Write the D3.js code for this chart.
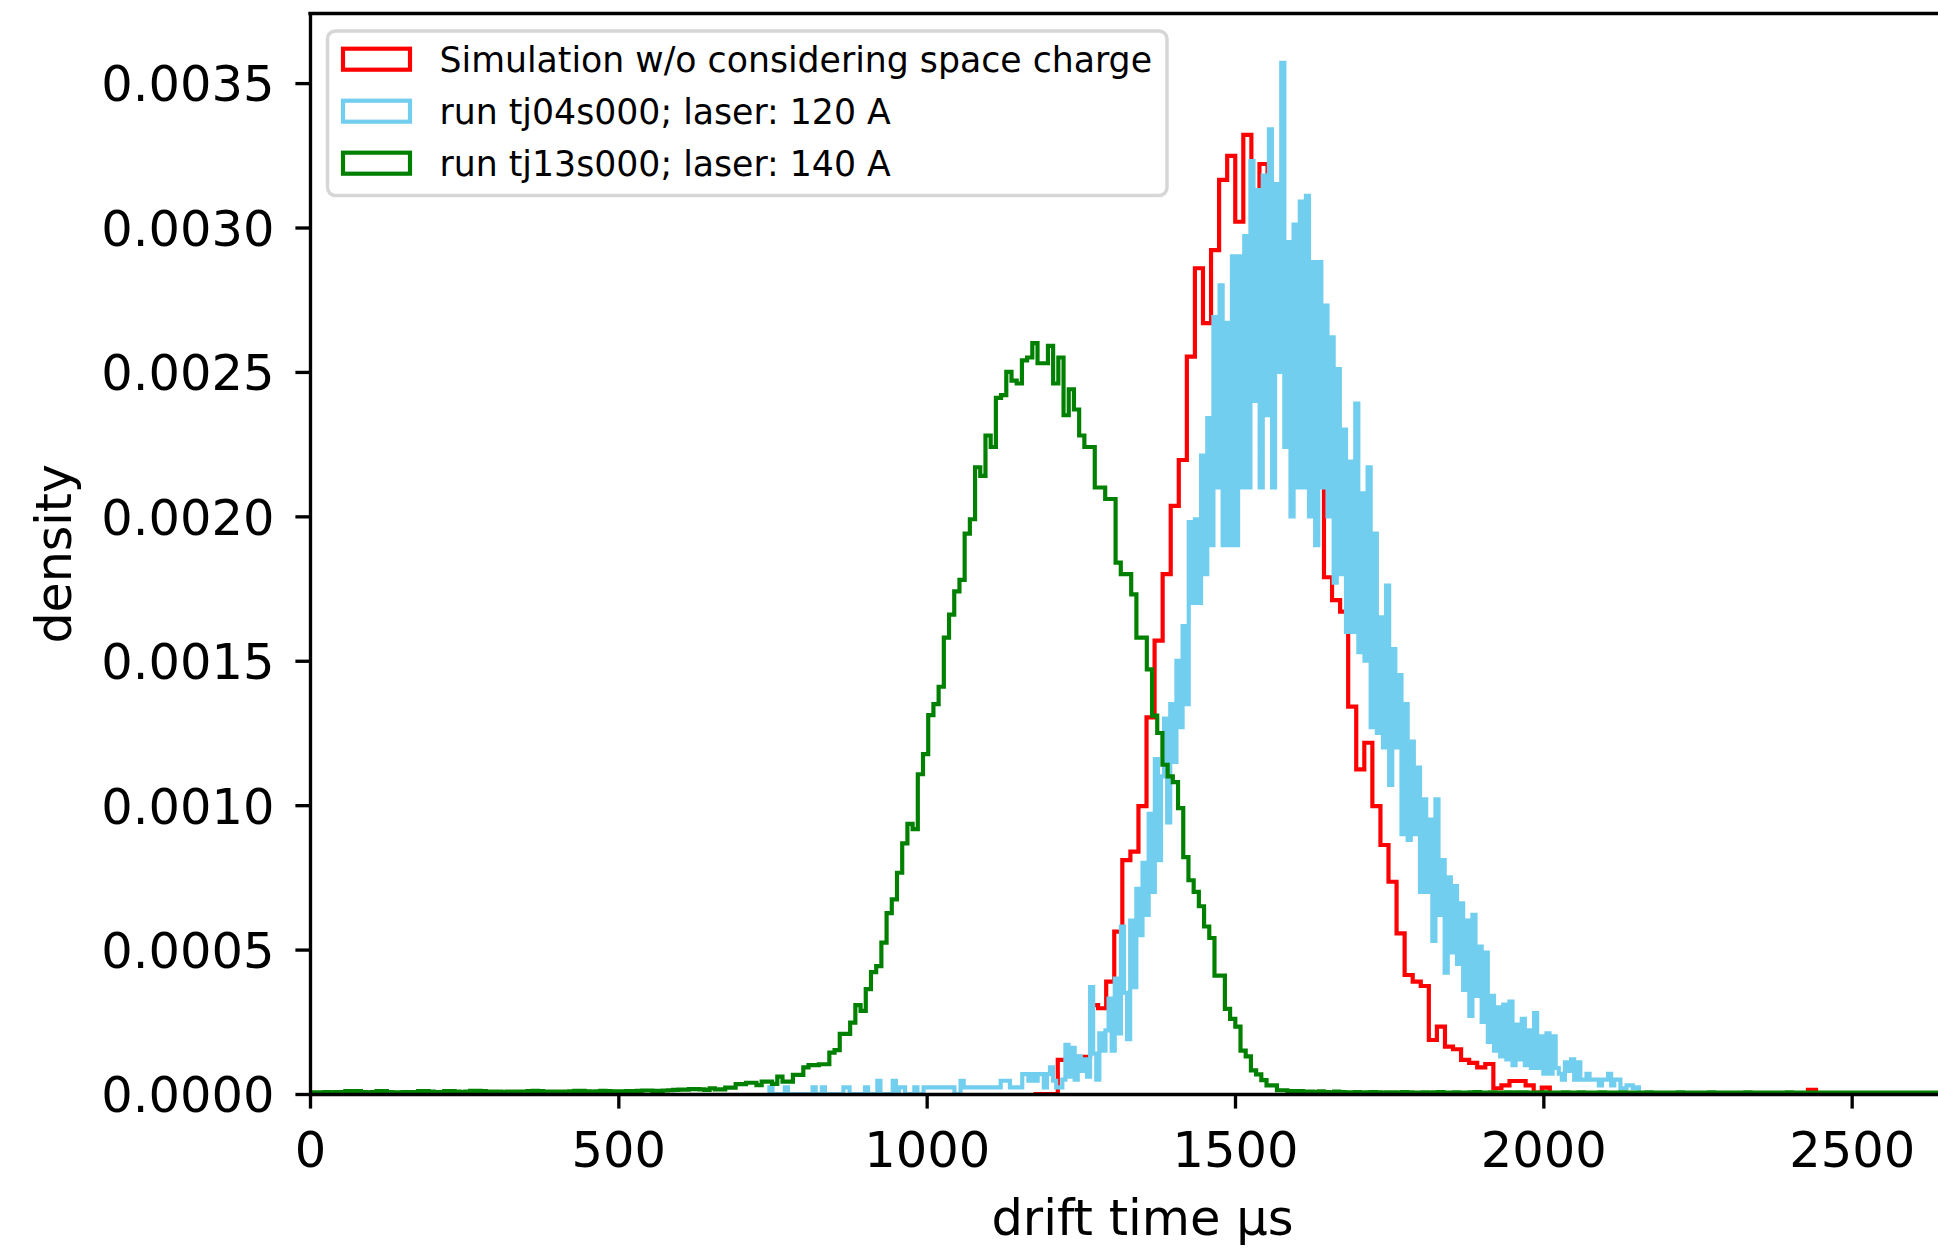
<!DOCTYPE html>
<html>
<head>
<meta charset="utf-8">
<script src="https://cdn.jsdelivr.net/npm/d3@7"></script>
<style>
  html, body { margin: 0; padding: 0; background: #fff; }
  svg { display: block; font-family: 'DejaVu Sans', sans-serif; }
</style>
</head>
<body>
<div id="chart"></div>
<script>
// labels and ticks
const seriesLabels = [
  'Simulation w/o considering space charge',
  'run tj04s000; laser: 120 A',
  'run tj13s000; laser: 140 A'
];
const seriesColors = ['#ff0000', '#72ceee', '#008000'];
const xTicks = [0, 500, 1000, 1500, 2000, 2500];
const yTicks = [0, 0.0005, 0.001, 0.0015, 0.002, 0.0025, 0.003, 0.0035];
const xLimit = [0, 2700];
const yLimit = [0, 0.003741];
const xTitle = 'drift time µs';
const yTitle = 'density';

// simulation (red), step histogram
const simBinStart = 1173.4;
const simBinWidth = 13.08;
const simDensity = [
  0, 0, 0, 0.000118, 0.000118, 0.000129, 0.000129, 0.000308, 0.000297, 0.000389,
  0.000562, 0.00081, 0.000839, 0.000997, 0.001304, 0.00157, 0.0018, 0.002036, 0.002195, 0.002553,
  0.002859, 0.002669, 0.002922, 0.003165, 0.003248, 0.00302, 0.003321, 0.00311, 0.00322, 0.0030,
  0.0029, 0.0028, 0.0027, 0.0025, 0.0023, 0.00214, 0.001789, 0.00171, 0.00167, 0.001341,
  0.001124, 0.001216, 0.000997, 0.000862, 0.000735, 0.000556, 0.000412, 0.000389, 0.000374, 0.000187,
  0.000233, 0.000164, 0.000155, 0.000118, 0.000108, 0.000092, 0.000104, 0.00002, 0.00003, 0.000045,
  0.000045, 0.00003, 0.000005, 0.000022, 0, 0, 0, 0, 0, 0,
  0, 0, 0, 0, 0, 0, 0, 0, 0, 0,
  0, 0, 0, 0, 0, 0, 0, 0, 0, 0,
  0, 0, 0, 0, 0, 0, 0.000014, 0
];

// run tj04s000 (light blue), narrow bins
const run04BinStart = 745;
const run04BinWidth = 5;
const run04Density = [
  0.000023, 0, 0, 0, 0, 0.000023, 0, 0, 0, 0,
  0, 0, 0, 0, 0.000023, 0, 0, 0.000023, 0, 0,
  0, 0, 0, 0, 0.000023, 0.000023, 0, 0, 0, 0,
  0, 0.000023, 0, 0, 0, 0.000046, 0, 0, 0, 0,
  0.000046, 0, 0.000023, 0.000023, 0, 0, 0, 0.000023, 0, 0,
  0.000023, 0.000023, 0.000023, 0.000023, 0.000023, 0.000023, 0.000023, 0.000023, 0.000023, 0.000023,
  0, 0, 0.000046, 0.000023, 0.000023, 0.000023, 0.000023, 0.000023, 0.000023, 0.000023,
  0.000023, 0.000023, 0.000023, 0.000023, 0.000023, 0.000046, 0.000046, 0.000046, 0.000023, 0.000023,
  0.000023, 0.000023, 0.000069, 0.000069, 0.000046, 0.000069, 0.000046, 0.000069, 0.000069, 0.000023,
  0.000069, 0.000092, 0.000046, 0.000023, 0.000023, 0.00005, 0.00017, 0.00006, 0.00016, 0.00005,
  0.00013, 0.00008, 0.00012, 0.00006, 0.00037, 0.00014, 0.00005, 0.00021, 0.00015, 0.00022,
  0.00033, 0.00015, 0.0004, 0.00021, 0.00058, 0.00035, 0.00019, 0.0006, 0.00037, 0.00071,
  0.00055, 0.0008, 0.00062, 0.00097, 0.0007, 0.00116, 0.00081, 0.0011, 0.0013, 0.00094,
  0.00135, 0.00115, 0.0015, 0.00127, 0.00162, 0.00135, 0.00198, 0.0017, 0.00199, 0.0017,
  0.00221, 0.0018, 0.00234, 0.0019, 0.00269, 0.0021, 0.0028, 0.0019, 0.00267, 0.0019,
  0.0029, 0.0019, 0.0029, 0.0021, 0.00297, 0.0021, 0.00323, 0.0024, 0.00313, 0.0021,
  0.00318, 0.00235, 0.00334, 0.0021, 0.00315, 0.0025, 0.00357, 0.00224, 0.00295, 0.002,
  0.00301, 0.0021, 0.00309, 0.0021, 0.00311, 0.002, 0.00288, 0.0019, 0.00288, 0.0021,
  0.00273, 0.002, 0.00262, 0.00177, 0.00251, 0.0018, 0.0023, 0.0016, 0.00219, 0.0016,
  0.00239, 0.00153, 0.00208, 0.0015, 0.00217, 0.00127, 0.00194, 0.00125, 0.00165, 0.0012,
  0.00176, 0.00107, 0.00154, 0.0012, 0.00145, 0.0009, 0.00135, 0.00088, 0.00122, 0.0009,
  0.00113, 0.0007, 0.00102, 0.0007, 0.00095, 0.00053, 0.00102, 0.00062, 0.00081, 0.00042,
  0.00075, 0.00049, 0.00072, 0.00045, 0.00066, 0.00036, 0.0006, 0.00027, 0.00062, 0.00034,
  0.00051, 0.00025, 0.00049, 0.00018, 0.00034, 0.00015, 0.0003, 0.00013, 0.00031, 0.00012,
  0.00032, 0.0001, 0.00024, 0.00012, 0.00026, 0.0001, 0.00022, 0.00009, 0.00028, 0.00009,
  0.0002, 0.00007, 0.00021, 0.00007, 0.0002, 0.00009, 0.00007, 0.00005, 0.00011, 0.00008,
  0.00012, 0.00005, 0.00011, 0.00005, 0.00005, 0.00007, 0.00005, 0.00005, 0.00005, 0.00003,
  0.00005, 0.00005, 0.00007, 0.00003, 0.00005, 0.00005, 0.00002, 0.00002, 0.00003, 0.00003,
  0.00002, 0.000023, 0
];

// run tj13s000 (green)
const run13BinStart = 6.6;
const run13BinWidth = 8.44;
const run13Density = [
  // low tail
  0.000006, 0.000006, 0.000007, 0.000006, 0.000007, 0.000007, 0.00001, 0.00001, 0.00001, 0.000007,
  0.000006, 0.000007, 0.00001, 0.00001, 0.000007, 0.000006, 0.000006, 0.000007, 0.000007, 0.000007,
  0.00001, 0.00001, 0.000008, 0.000007, 0.000007, 0.00001, 0.00001, 0.000008, 0.000007, 0.000008,
  0.000011, 0.000011, 0.00001, 0.000008, 0.000008, 0.000008, 0.000007, 0.000008, 0.000008, 0.000008,
  0.000008, 0.00001, 0.000011, 0.00001, 0.000008, 0.000008, 0.000008, 0.000008, 0.000008, 0.000009,
  0.000011, 0.000011, 0.000009, 0.000008, 0.000009, 0.000011, 0.00001, 0.000009, 0.000009, 0.000009,
  0.00001, 0.00001, 0.000011, 0.000012, 0.000012, 0.000011, 0.000011, 0.000012, 0.000013, 0.000014,
  0.000015, 0.000015, 0.000017, 0.000017, 0.000016,
  // main peak
  0.000014, 0.00002, 0.000016, 0.000016, 0.000022, 0.000022, 0.000034, 0.000034, 0.000039, 0.000039,
  0.000031, 0.000043, 0.000043, 0.000035, 0.00006, 0.000043, 0.000043, 0.000066, 0.000066, 0.000092,
  0.0001, 0.0001, 0.000103, 0.000103, 0.000143, 0.000152, 0.000208, 0.000208, 0.000247, 0.000308,
  0.000288, 0.000363, 0.000422, 0.000443, 0.000524, 0.000626, 0.000674, 0.000766, 0.000868, 0.000935,
  0.000917, 0.001107, 0.001177, 0.001312, 0.00135, 0.00141, 0.00158, 0.00166, 0.00174, 0.00178,
  0.00194, 0.00199, 0.00217, 0.00214, 0.00228, 0.00224, 0.00241, 0.00242, 0.0025, 0.00247,
  0.00246, 0.00254, 0.00255, 0.0026, 0.00253, 0.00253, 0.00259, 0.00246, 0.00255, 0.00235,
  0.00244, 0.00237, 0.00228, 0.00224, 0.00224, 0.0021, 0.0021, 0.00206, 0.00206, 0.00184,
  0.0018, 0.0018, 0.00173, 0.00158, 0.00158, 0.00147, 0.00131, 0.00125, 0.00114, 0.0011,
  0.00108, 0.00099, 0.00082, 0.00074, 0.0007, 0.00065, 0.00058, 0.00054, 0.00041, 0.00041,
  0.000295, 0.00026, 0.000233, 0.00015, 0.00013, 0.000082, 0.000068, 0.000048, 0.00003, 0.00003,
  0.000013, 0.000013, 0.00001, 0.00001,
  // high tail
  0.00001, 0.000008, 0.000008, 0.000007, 0.000009, 0.000007, 0.000006, 0.000008, 0.000007, 0.000006,
  0.000006, 0.000007, 0.000005, 0.000006, 0.000007, 0.000006, 0.000005, 0.000006, 0.000006, 0.000005,
  0.000007, 0.000006, 0.000005, 0.000005, 0.000006, 0.000005, 0.000006, 0.000007, 0.000005, 0.000005,
  0.000006, 0.000005, 0.000005, 0.000006, 0.000007, 0.000005, 0.000005, 0.000006, 0.000005, 0.000005,
  0.000006, 0.000005, 0.000006, 0.000006, 0.000005, 0.000005, 0.000005, 0.000006, 0.000005, 0.000005,
  0.000005, 0.000006, 0.000005, 0.000005, 0.000006, 0.000005, 0.000005, 0.000005, 0.000006, 0.000005,
  0.000005, 0.000005, 0.000006, 0.000005, 0.000005, 0.000005, 0.000005, 0.000006, 0.000005, 0.000005,
  0.000005, 0.000005, 0.000005, 0.000006, 0.000005, 0.000005, 0.000005, 0.000005, 0.000005, 0.000006,
  0.000005, 0.000005, 0.000005, 0.000005, 0.000005, 0.000005, 0.000006, 0.000005, 0.000005, 0.000005,
  0.000005, 0.000005, 0.000005, 0.000005, 0.000006, 0.000005, 0.000005, 0.000005, 0.000005, 0.000005,
  0.000005, 0.000005, 0.000005, 0.000005, 0.000005, 0.000005, 0.000005, 0.000005, 0.000005, 0.000005,
  0.000005, 0.000005, 0.000005, 0.000005, 0.000005, 0.000005, 0.000005, 0.000005, 0.000005, 0.000005,
  0.000005, 0.000005, 0.000005, 0.000005, 0.000005, 0.000005
];

const width = 1938;
const height = 1248;
const plot = { left: 310, right: 1975, top: 13.5, bottom: 1094 };
const lineWidth = 4.17;
const spineWidth = 3.33;
const tickFont = 49.5;

const x = d3.scaleLinear().domain(xLimit).range([plot.left, plot.right]);
const y = d3.scaleLinear().domain(yLimit).range([plot.bottom, plot.top]);

// outline of a step histogram, like histtype='step'
function stepPoints(start, binWidth, values) {
  const pts = [[start, 0]];
  values.forEach((v, i) => {
    pts.push([start + i * binWidth, v]);
    pts.push([start + (i + 1) * binWidth, v]);
  });
  pts.push([start + values.length * binWidth, 0]);
  return pts;
}

const series = [
  { points: stepPoints(simBinStart, simBinWidth, simDensity), color: seriesColors[0] },
  { points: stepPoints(run04BinStart, run04BinWidth, run04Density), color: seriesColors[1] },
  { points: stepPoints(run13BinStart, run13BinWidth, run13Density), color: seriesColors[2] }
];

const svg = d3.select('#chart').append('svg')
  .attr('width', width)
  .attr('height', height);

svg.append('defs').append('clipPath')
  .attr('id', 'plot-clip')
  .append('rect')
  .attr('x', plot.left)
  .attr('y', plot.top)
  .attr('width', plot.right - plot.left)
  .attr('height', plot.bottom - plot.top);

const line = d3.line().x(d => x(d[0])).y(d => y(d[1]));

svg.append('g')
  .attr('clip-path', 'url(#plot-clip)')
  .selectAll('path')
  .data(series)
  .join('path')
  .attr('d', d => line(d.points))
  .attr('fill', 'none')
  .attr('stroke', d => d.color)
  .attr('stroke-width', lineWidth)
  .attr('stroke-linejoin', 'miter');

// axes
const yAxis = svg.append('g')
  .attr('transform', `translate(${plot.left},0)`)
  .call(d3.axisLeft(y)
    .tickValues(yTicks)
    .tickFormat(d3.format('.4f'))
    .tickSize(14.6)
    .tickSizeOuter(0)
    .tickPadding(21));

const xAxis = svg.append('g')
  .attr('transform', `translate(0,${plot.bottom})`)
  .call(d3.axisBottom(x)
    .tickValues(xTicks)
    .tickFormat(d3.format('d'))
    .tickSize(14.6)
    .tickSizeOuter(0)
    .tickPadding(23.3));

[yAxis, xAxis].forEach(g => {
  g.select('.domain').attr('stroke', '#000').attr('stroke-width', spineWidth).attr('stroke-linecap', 'square');
  g.selectAll('.tick line').attr('stroke', '#000').attr('stroke-width', spineWidth);
  g.selectAll('.tick text')
    .attr('fill', '#000')
    .attr('font-family', "'DejaVu Sans', sans-serif")
    .attr('font-size', tickFont);
});
yAxis.selectAll('.tick text').attr('dy', '0.36em');
xAxis.selectAll('.tick text').attr('dy', '0.71em');

// top and right spines
svg.append('path')
  .attr('d', `M${plot.left},${plot.top}H${plot.right}V${plot.bottom}`)
  .attr('fill', 'none')
  .attr('stroke', '#000')
  .attr('stroke-width', spineWidth)
  .attr('stroke-linecap', 'square');

// axis titles
svg.append('text')
  .attr('x', (plot.left + plot.right) / 2)
  .attr('y', 1235)
  .attr('text-anchor', 'middle')
  .attr('font-size', tickFont)
  .text(xTitle);

svg.append('text')
  .attr('transform', `translate(71,${(plot.top + plot.bottom) / 2}) rotate(-90)`)
  .attr('text-anchor', 'middle')
  .attr('font-size', 49)
  .text(yTitle);

// legend
const legend = svg.append('g');
legend.append('rect')
  .attr('x', 327.5)
  .attr('y', 31)
  .attr('width', 839.5)
  .attr('height', 164.5)
  .attr('rx', 8)
  .attr('fill', '#fff')
  .attr('fill-opacity', 0.8)
  .attr('stroke', '#cccccc')
  .attr('stroke-opacity', 0.8)
  .attr('stroke-width', 3.5);

const rows = legend.selectAll('g.item')
  .data(seriesLabels)
  .join('g')
  .attr('class', 'item')
  .attr('transform', (d, i) => `translate(0,${59.2 + i * 52})`);

rows.append('rect')
  .attr('x', 343)
  .attr('y', -10.5)
  .attr('width', 67)
  .attr('height', 21)
  .attr('fill', 'none')
  .attr('stroke', (d, i) => seriesColors[i])
  .attr('stroke-width', lineWidth);

rows.append('text')
  .attr('x', 439.5)
  .attr('y', 12.5)
  .attr('font-size', 34.7)
  .attr('fill', '#000')
  .text(d => d);
</script>
</body>
</html>
